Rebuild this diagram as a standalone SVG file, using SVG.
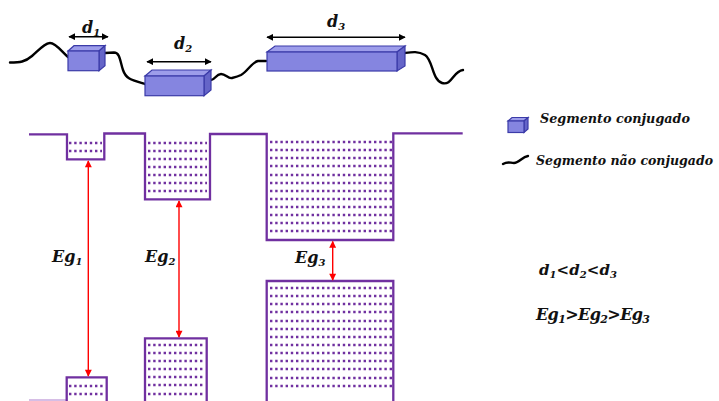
<svg xmlns="http://www.w3.org/2000/svg" width="719" height="401" viewBox="0 0 719 401">
  <style>
    .chain { fill: none; stroke: #000; stroke-width: 2.4; stroke-linecap: round; stroke-linejoin: round; }
    .front { fill: #8585e0; stroke: #3b3ba8; stroke-width: 1.2; }
    .top { fill: #9d9dea; stroke: #3b3ba8; stroke-width: 1.2; }
    .side { fill: #6565c8; stroke: #3b3ba8; stroke-width: 1.2; }
    .dim { fill: none; stroke: #000; stroke-width: 1.5; marker-start: url(#blk); marker-end: url(#blk); }
    .band { fill: none; stroke: #7030a0; stroke-width: 2.3; stroke-linejoin: miter; }
    .dots { fill: none; stroke: #7030a0; stroke-width: 2.4; stroke-dasharray: 2.4 2.8; }
    .gap { fill: none; stroke: #ff0000; stroke-width: 1.4; marker-start: url(#red); marker-end: url(#red); }
    .lbl { font-family: "DejaVu Serif", "Liberation Serif", serif; font-weight: bold; font-style: italic; fill: #111; }
  </style>
  <defs>
    <marker id="blk" viewBox="0 0 10 10" refX="9" refY="5" markerWidth="7" markerHeight="7" markerUnits="userSpaceOnUse" orient="auto-start-reverse">
      <path d="M0,0 L10,5 L0,10 Z" fill="#000"/>
    </marker>
    <marker id="red" viewBox="0 0 10 10" refX="9" refY="5" markerWidth="8" markerHeight="7" markerUnits="userSpaceOnUse" orient="auto-start-reverse">
      <path d="M0,0 L10,5 L0,10 Z" fill="#ff0000"/>
    </marker>
  </defs>

  <!-- polymer chain: non-conjugated links -->
  <g id="chain">
    <path class="chain" d="M10,62.5 C20,62.5 25,62 32,56 C40,49 45,43 50,43 C56,43 62,52 68,57"/>
    <path class="chain" d="M105,53 L114,52.5 C120,52.5 120,61 123,70 C126,79 131,80 145,84"/>
    <path class="chain" d="M211,80 C215,80 216,74 221,74 C226,74 228,79 232,78 C236,77 239,76 241,75 C248,71 252,62 258,61 L266,61"/>
    <path class="chain" d="M405,53 C412,52 418,51 425,55 C433,60 432,80 442,83 C452,86 453,71 463,70"/>
  </g>

  <!-- conjugated segments -->
  <g id="seg1">
    <polygon class="top" points="68,51 74,45.7 105,45.7 99,51"/>
    <polygon class="side" points="99,51 105,45.7 105,65.7 99,70.7"/>
    <rect class="front" x="68" y="51" width="31" height="19.7"/>
    <path class="dim" d="M69,36.7 H108"/>
    <text class="lbl" x="82" y="33" font-size="16">d<tspan font-size="10" dy="3">1</tspan></text>
  </g>
  <g id="seg2">
    <polygon class="top" points="145,76 152,70 211,70 204,76"/>
    <polygon class="side" points="204,76 211,70 211,90 204,95.7"/>
    <rect class="front" x="145" y="76" width="59" height="19.7"/>
    <path class="dim" d="M147,61.7 H211"/>
    <text class="lbl" x="174" y="49" font-size="16">d<tspan font-size="10" dy="3">2</tspan></text>
  </g>
  <g id="seg3">
    <polygon class="top" points="267,52 275,46 405,46 397,52"/>
    <polygon class="side" points="397,52 405,46 405,66 397,71"/>
    <rect class="front" x="267" y="52" width="130" height="19"/>
    <path class="dim" d="M267,37.3 H405"/>
    <text class="lbl" x="327" y="27" font-size="16">d<tspan font-size="10" dy="3">3</tspan></text>
  </g>

  <!-- conduction band wells -->
  <g id="conduction">
    <path class="band" d="M29,134.3 H67 V159.3 H104.3 V133.5 H145 V199.3 H210 V134 H266.7 V240 H393.3 V133.3 H462.7"/>
    <path class="dots" d="M69,143 H102 M69,151 H102"/>
    <path class="dots" d="M148,143 H207 M148,151 H207 M148,159 H207 M148,167 H207 M148,175 H207 M148,183 H207 M148,191 H207"/>
    <path class="dots" d="M270,142 H392 M270,150 H392 M270,158 H392 M270,166 H392 M270,175 H392 M270,183 H392 M270,191 H392 M270,199 H392 M270,207 H392 M270,215 H392 M270,223 H392 M270,231 H392"/>
  </g>

  <!-- valence band blocks -->
  <g id="valence">
    <path d="M29,400 H66" stroke="#c9a8de" stroke-width="1.5" fill="none"/>
    <path class="band" d="M66.7,402 V377.3 H106.7 V402"/>
    <path class="dots" d="M69,386 H105 M69,394 H105"/>
    <path class="band" d="M145,402 V338.3 H206.7 V402"/>
    <path class="dots" d="M148,345 H205 M148,353 H205 M148,361 H205 M148,369 H205 M148,377 H205 M148,385 H205 M148,394 H205"/>
    <path class="band" d="M266.7,402 V281 H393.3 V402"/>
    <path class="dots" d="M270,288 H392 M270,296 H392 M270,304 H392 M270,312 H392 M270,321 H392 M270,329 H392 M270,337 H392 M270,345 H392 M270,353 H392 M270,361 H392 M270,369 H392 M270,378 H392 M270,386 H392"/>
  </g>

  <!-- band gaps -->
  <g id="gaps">
    <path class="gap" d="M88.3,161 V376"/>
    <path class="gap" d="M179,201 V337"/>
    <path class="gap" d="M332.7,241.5 V280"/>
    <text class="lbl" x="52" y="262" font-size="16">Eg<tspan font-size="10" dy="3">1</tspan></text>
    <text class="lbl" x="145" y="262" font-size="16">Eg<tspan font-size="10" dy="3">2</tspan></text>
    <text class="lbl" x="295" y="263" font-size="16">Eg<tspan font-size="10" dy="3">3</tspan></text>
  </g>

  <!-- legend -->
  <g id="legend-conj">
    <polygon class="top" points="508,121 512,117.5 528,117.5 524,121"/>
    <polygon class="side" points="524,121 528,117.5 528,129 524,132.5"/>
    <rect class="front" x="508" y="121" width="16" height="11.5"/>
    <text class="lbl" x="540" y="123" font-size="13" textLength="150" lengthAdjust="spacingAndGlyphs">Segmento conjugado</text>
  </g>
  <g id="legend-nonconj">
    <path class="chain" d="M503,164 C508,161 510,163 514,163 C519,163 522,157 528,156"/>
    <text class="lbl" x="536" y="165" font-size="12.5" textLength="177" lengthAdjust="spacingAndGlyphs">Segmento não conjugado</text>
  </g>
  <g id="relations">
    <text class="lbl" x="539" y="275" font-size="15" textLength="78" lengthAdjust="spacing">d<tspan font-size="10" dy="3">1</tspan><tspan dy="-3">&lt;d</tspan><tspan font-size="10" dy="3">2</tspan><tspan dy="-3">&lt;d</tspan><tspan font-size="10" dy="3">3</tspan></text>
    <text class="lbl" x="536" y="320" font-size="16" textLength="114" lengthAdjust="spacing">Eg<tspan font-size="11" dy="3">1</tspan><tspan dy="-3">&gt;Eg</tspan><tspan font-size="11" dy="3">2</tspan><tspan dy="-3">&gt;Eg</tspan><tspan font-size="11" dy="3">3</tspan></text>
  </g>
</svg>
